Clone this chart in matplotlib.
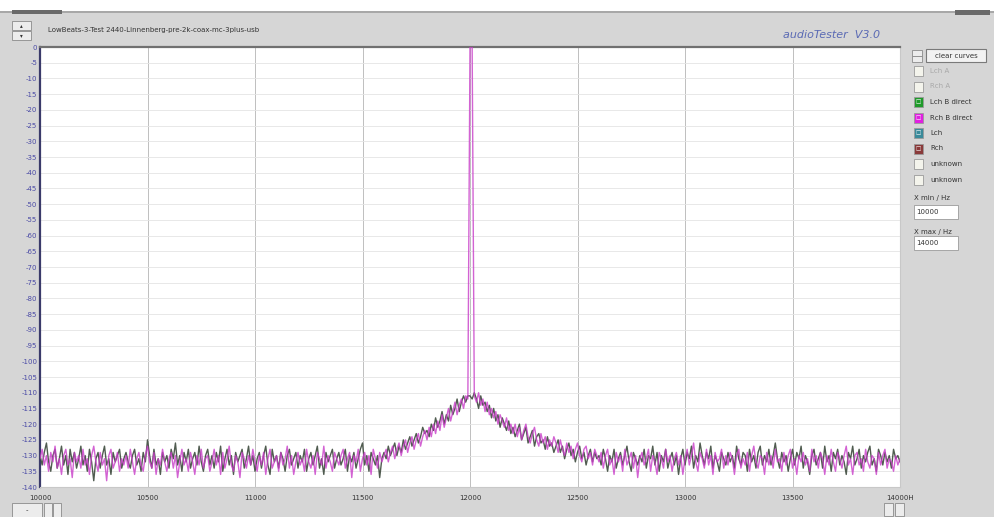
import numpy as np
import matplotlib.pyplot as plt
from matplotlib.patches import Rectangle

W, H = 994, 517

# frequency grid (Hz), 10 Hz steps
freq = np.arange(10000, 14001, 10)

# Rch B direct (magenta), dB
rch = [
    -131, -128, -133, -130, -135, -129, -132, -127, -134, -131, -136, -130, -128, -133, -131, -137, -129, -132, -130, -134,
    -128, -133, -131, -136, -130, -127, -132, -135, -129, -133, -131, -138, -130, -128, -134, -132, -129, -135, -131, -133,
    -130, -134, -128, -132, -136, -131, -129, -133, -135, -130, -127, -132, -134, -129, -136, -131, -133, -128, -132, -135,
    -131, -129, -134, -130, -137, -132, -128, -133, -131, -135, -129, -132, -136, -130, -133, -128, -134, -131, -130, -135,
    -132, -128, -133, -130, -136, -129, -134, -131, -127, -133, -135, -130, -132, -137, -129, -131, -134, -130, -133, -128,
    -132, -135, -130, -133, -129, -136, -131, -128, -134, -132, -130, -135, -129, -133, -131, -127, -134, -130, -136, -132,
    -129, -133, -131, -135, -128, -132, -134, -130, -136, -129, -131, -133, -127, -134, -130, -132, -135, -129, -131, -133,
    -130, -128, -134, -131, -129, -137, -130, -132, -128, -135, -131, -129, -133, -130, -136, -128, -131, -134, -129, -132,
    -130, -128, -132, -129, -127, -131, -128, -126, -130, -127, -125, -129, -126, -124, -128, -125, -123, -127, -124, -122,
    -125, -121, -124, -120, -123, -119, -122, -117, -121, -118, -115, -119, -116, -113, -117, -114, -112, -115, -111, -112,
    0, 0, -111, -113, -110, -114, -112, -116, -113, -117, -115, -118, -116, -120, -117, -119, -121, -118, -122, -120,
    -123, -120, -124, -121, -125, -122, -120, -124, -126, -123, -121, -125, -127, -123, -126, -124, -128, -125, -127, -124,
    -126, -129, -125, -128, -130, -126, -129, -127, -131, -128, -126, -130, -132, -128, -127, -131, -129, -133, -128, -130,
    -132, -129, -134, -130, -128, -133, -131, -136, -129, -132, -130, -135, -128, -133, -131, -129, -134, -130, -137, -131,
    -129, -133, -131, -128, -135, -130, -132, -136, -129, -131, -134, -128, -132, -130, -135, -131, -129, -133, -130, -136,
    -131, -128, -133, -130, -126, -132, -135, -129, -131, -134, -128, -133, -130, -136, -129, -132, -131, -128, -134, -130,
    -133, -129, -131, -136, -130, -128, -134, -131, -133, -129, -135, -130, -127, -132, -134, -130, -131, -136, -129, -133,
    -130, -134, -128, -132, -131, -135, -129, -133, -130, -128, -134, -131, -136, -130, -132, -129, -133, -131, -135, -128,
    -132, -130, -134, -129, -131, -136, -130, -133, -128, -132, -135, -129, -131, -134, -130, -127, -133, -131, -136, -130,
    -129, -133, -131, -135, -128, -132, -134, -130, -131, -136, -129, -133, -130, -128, -134, -131, -132, -135, -130, -133,
    -131,
]

# Lch B direct (dark trace), dB
lch = [
    -130, -133, -129, -126, -132, -135, -130, -128, -134, -131, -127, -133, -130, -136, -128, -132, -129, -134, -131, -127,
    -133, -130, -135, -128, -132, -138, -131, -129, -134, -130, -127, -133, -131, -136, -129, -132, -130, -128, -134, -131,
    -129, -132, -134, -130, -128, -133, -131, -135, -129, -132, -125, -130, -134, -128, -133, -131, -136, -129, -132, -130,
    -134, -128, -131, -126, -133, -130, -135, -129, -132, -128, -134, -131, -129, -133, -127, -132, -135, -130, -128, -133,
    -130, -134, -129, -132, -127, -135, -131, -128, -133, -130, -136, -129, -132, -130, -128, -134, -131, -127, -133, -130,
    -135, -131, -129, -134, -130, -127, -133, -136, -128, -132, -130, -134, -129, -131, -135, -130, -128, -133, -131, -129,
    -134, -130, -132, -128, -135, -131, -129, -133, -130, -127, -134, -131, -136, -129, -132, -130, -128, -134, -131, -129,
    -133, -131, -128, -135, -130, -132, -129, -134, -131, -128, -126, -133, -130, -135, -129, -131, -133, -130, -137, -131,
    -129, -131, -127, -130, -128, -126, -130, -127, -129, -125, -128, -126, -124, -127, -125, -123, -126, -124, -121, -123,
    -122, -124, -120, -122, -118, -121, -119, -116, -120, -117, -119, -114, -117, -115, -112, -116, -113, -111, -113, -111,
    -111, -112, -110, -112, -115, -111, -114, -113, -116, -114, -118, -115, -119, -117, -121, -118, -120, -122, -119, -123,
    -121, -124, -122, -120, -125, -123, -121, -126, -124, -122, -127, -124, -123, -126, -125, -128, -124, -127, -126, -129,
    -127, -125, -129, -127, -131, -128, -126, -130, -128, -132, -129, -127, -131, -129, -133, -130, -128, -132, -129, -131,
    -130, -133, -128, -131, -135, -130, -132, -128, -134, -131, -129, -133, -130, -127, -132, -135, -129, -131, -133, -130,
    -132, -128, -134, -130, -131, -127, -133, -129, -135, -130, -132, -128, -134, -131, -129, -133, -130, -136, -131, -128,
    -133, -129, -131, -127, -134, -130, -132, -126, -130, -133, -129, -131, -127, -134, -130, -132, -135, -129, -131, -133,
    -129, -132, -130, -134, -127, -131, -133, -129, -130, -135, -128, -132, -130, -134, -129, -127, -133, -130, -132, -128,
    -133, -130, -126, -131, -134, -129, -132, -130, -135, -131, -128, -133, -129, -131, -127, -134, -130, -132, -136, -130,
    -128, -133, -131, -129, -134, -127, -132, -130, -135, -129, -131, -128, -133, -130, -132, -136, -129, -131, -127, -133,
    -131, -128, -134, -130, -132, -129, -127, -133, -131, -135, -128, -130, -133, -129, -132, -130, -134, -128, -131, -130,
    -132,
]

x_ticks = [10000, 10500, 11000, 11500, 12000, 12500, 13000, 13500, 14000]
x_labels = ['10000', '10500', '11000', '11500', '12000', '12500', '13000', '13500', '14000H']
y_ticks = list(range(0, -141, -5))

title = 'LowBeats-3-Test 2440-Linnenberg-pre-2k-coax-mc-3plus-usb'
legend_items = [
    ('Lch A', None, True),
    ('Rch A', None, True),
    ('Lch B direct', '#1f9a2a', False),
    ('Rch B direct', '#e020e0', False),
    ('Lch', '#3a8a9a', False),
    ('Rch', '#8a3a3a', False),
    ('unknown', None, False),
    ('unknown', None, False),
]

BG = '#d6d6d6'


def fx(px):
    return px / W


def fy(py):
    return 1 - py / H


def box(x0, y0, x1, y1, fc, ec='none', lw=0.6, z=1):
    fig.patches.append(Rectangle((fx(x0), fy(y1)), fx(x1 - x0), (y1 - y0) / H,
                                 transform=fig.transFigure, facecolor=fc,
                                 edgecolor=ec, linewidth=lw, zorder=z))


def label(px, py, s, **kw):
    kw.setdefault('fontsize', 5.5)
    kw.setdefault('color', '#333333')
    kw.setdefault('va', 'center')
    fig.text(fx(px), fy(py), s, **kw)


fig = plt.figure(figsize=(W / 100, H / 100), dpi=100, facecolor=BG)

# window chrome
box(0, 0, W, 11, 'white')
box(0, 11, W, 13, '#a8a8a8')
box(12, 10, 62, 14, '#6a6a6a')
box(955, 10, 990, 15, '#6a6a6a')
box(12, 21, 31, 30, '#ececec', '#8a8a8a')
box(12, 31, 31, 40, '#ececec', '#8a8a8a')
label(21.5, 25.5, '▴', fontsize=4, ha='center')
label(21.5, 35.5, '▾', fontsize=4, ha='center')
label(48, 30, title, fontsize=5)
label(880, 35, 'audioTester  V3.0', fontsize=8, style='italic',
      color='#5a6ab4', ha='right')

# plot area
ax = fig.add_axes([fx(40), fy(487), fx(860), 440 / H])
ax.set_facecolor('white')
ax.plot(freq, lch, color='#3d4a3d', lw=1.0, alpha=0.9, zorder=3)
ax.plot(freq, rch, color='#c83cc8', lw=1.0, alpha=0.8, zorder=4)
ax.set_xlim(10000, 14000)
ax.set_ylim(-140, 0)
ax.set_xticks(x_ticks)
ax.set_xticklabels(x_labels)
ax.set_yticks(y_ticks)
ax.set_yticklabels([str(v) for v in y_ticks])
ax.tick_params(axis='y', length=0, pad=2, labelsize=5, labelcolor='#4a4aa6')
ax.tick_params(axis='x', length=0, pad=6, labelsize=5, labelcolor='#333333')
ax.xaxis.grid(True, color='#b4b4b4', lw=0.6)
ax.yaxis.grid(True, color='#e4e4e4', lw=0.6)
ax.set_axisbelow(True)
ax.spines['left'].set_color('#3a3a6a')
ax.spines['left'].set_linewidth(1.6)
ax.spines['top'].set_color('#707070')
ax.spines['top'].set_linewidth(1.6)
ax.spines['right'].set_color('#c8c8c8')
ax.spines['bottom'].set_color('#c8c8c8')

# right panel
box(912, 50, 922, 56, '#ececec', '#8a8a8a')
box(912, 56, 922, 62, '#ececec', '#8a8a8a')
box(926, 49, 986, 62, '#f2f2f2', '#7a7a7a', lw=0.8)
label(956, 55.5, 'clear curves', fontsize=5, ha='center')
for i, (name, col, disabled) in enumerate(legend_items):
    yc = 71 + i * 15.5
    box(914, yc - 5, 923, yc + 5, col if col else '#f4f4ec', '#9a9a9a')
    if col:
        label(918.5, yc, '□', fontsize=4, color='white', ha='center')
    label(930, yc, name, fontsize=5, color='#a8a8a8' if disabled else '#333333')
label(914, 198, 'X min / Hz', fontsize=5)
box(914, 205, 958, 219, 'white', '#9a9a9a')
label(916, 212, '10000', fontsize=5)
label(914, 232, 'X max / Hz', fontsize=5)
box(914, 236, 958, 250, 'white', '#9a9a9a')
label(916, 243, '14000', fontsize=5)

# bottom buttons
box(12, 503, 42, 517, '#ececec', '#8a8a8a')
label(27, 510, '-', fontsize=5, ha='center')
box(44, 503, 52, 517, '#ececec', '#8a8a8a')
box(53, 503, 61, 517, '#ececec', '#8a8a8a')
box(884, 503, 893, 516, '#ececec', '#8a8a8a')
box(895, 503, 904, 516, '#ececec', '#8a8a8a')

fig.savefig('out.png', dpi=100, facecolor=BG)
